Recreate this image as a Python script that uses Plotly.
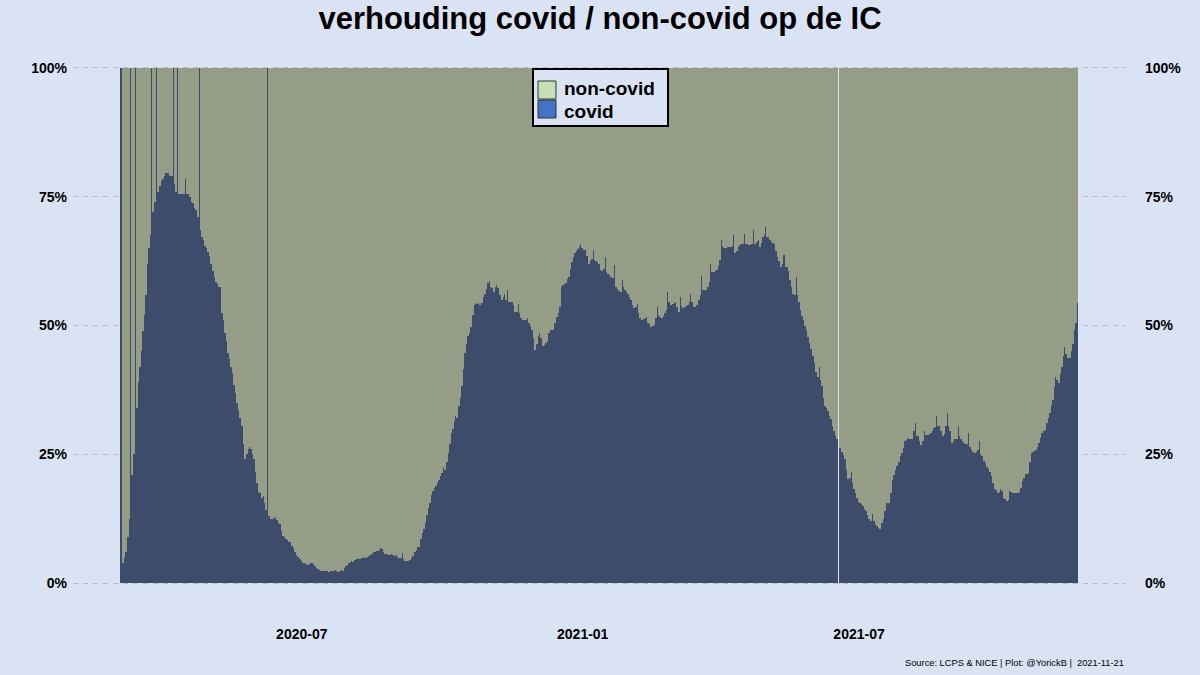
import pandas as pd
import plotly.graph_objects as go

# ---------------- data ----------------
start_date = "2020-03-05"

covid_pct = [
    100, 4.0, 5.0, 6.0, 9.0, 12.5, 100, 21.0, 25.0, 100,
    34.0, 39.0, 42.0, 45.0, 49.0, 52.0, 56.0, 62.0, 65.0, 67.5,
    100, 72.0, 74.0, 100, 76.0, 77.0, 78.0, 78.5, 79.0, 79.5,
    79.5, 79.5, 79.0, 79.0, 100, 77.5, 76.0, 100, 75.5, 75.5,
    75.5, 75.5, 78.5, 75.5, 75.5, 75.0, 74.0, 73.8, 72.8, 72.4,
    71.0, 100, 68.5, 67.2, 66.5, 65.4, 65.0, 64.2, 63.4, 62.0,
    60.5, 59.5, 58.5, 58.0, 57.5, 57.5, 52.5, 51.0, 48.5, 47.0,
    44.6, 43.5, 42.0, 40.8, 38.5, 36.9, 35.0, 33.7, 32.0, 30.5,
    27.0, 24.1, 25.0, 26.0, 26.5, 26.0, 25.0, 24.1, 21.5, 19.5,
    17.6, 17.5, 16.5, 17.0, 15.5, 14.3, 100, 13.0, 12.4, 12.5,
    12.9, 12.7, 12.2, 11.7, 11.5, 10.2, 9.2, 9.0, 8.6, 8.3,
    8.0, 7.9, 7.3, 6.8, 6.0, 5.4, 5.0, 4.7, 4.4, 4.0,
    3.9, 3.8, 3.6, 3.8, 4.0, 4.0, 3.8, 3.4, 3.0, 2.7,
    2.5, 2.4, 2.4, 2.3, 2.4, 2.3, 2.2, 2.4, 2.3, 2.4,
    2.5, 2.4, 2.2, 2.4, 2.6, 2.3, 2.9, 3.3, 3.6, 4.0,
    4.2, 4.3, 4.2, 4.5, 4.6, 4.8, 4.7, 4.9, 4.8, 5.0,
    4.8, 5.0, 5.2, 5.5, 5.7, 6.1, 6.0, 6.3, 6.2, 6.5,
    6.9, 6.6, 6.1, 5.7, 5.6, 5.5, 5.5, 5.6, 5.5, 5.3,
    5.4, 5.1, 4.9, 4.8, 5.8, 4.6, 4.4, 4.3, 4.4, 4.5,
    4.9, 5.3, 6.1, 6.5, 7.0, 7.1, 8.5, 9.7, 10.5, 11.6,
    13.2, 14.5, 15.5, 17.2, 17.8, 18.5, 18.8, 19.5, 20.1, 20.8,
    21.4, 22.5, 22.0, 23.5, 25.3, 27.0, 29.2, 30.0, 31.5, 32.4,
    32.0, 34.3, 36.0, 38.2, 41.5, 44.6, 46.5, 47.9, 48.5, 49.8,
    52.0, 54.0, 54.3, 54.2, 54.3, 54.0, 54.3, 55.5, 56.2, 57.0,
    58.2, 58.7, 57.5, 57.2, 56.5, 57.5, 57.8, 57.2, 56.0, 55.0,
    55.5, 56.2, 55.0, 56.9, 54.6, 54.6, 54.5, 54.0, 52.7, 52.7,
    54.2, 52.5, 51.5, 51.1, 51.1, 51.1, 51.4, 50.5, 50.0, 49.1,
    47.5, 45.3, 46.5, 47.9, 48.5, 47.5, 46.0, 46.3, 46.6, 47.0,
    48.5, 49.1, 49.1, 49.1, 50.5, 51.7, 52.5, 53.6, 57.5, 57.8,
    58.0, 58.2, 59.1, 59.5, 61.0, 62.3, 63.2, 64.0, 64.5, 64.9,
    65.2, 65.9, 65.0, 64.6, 64.6, 63.5, 62.0, 62.5, 63.0, 64.6,
    62.7, 62.5, 62.3, 62.0, 60.7, 60.5, 61.0, 63.3, 60.4, 60.0,
    59.8, 59.4, 59.2, 61.7, 57.5, 57.0, 56.7, 56.5, 58.8, 57.5,
    56.8, 56.5, 56.2, 55.5, 54.9, 54.0, 53.3, 53.5, 54.2, 52.5,
    51.5, 51.1, 51.3, 51.5, 51.7, 50.4, 50.2, 49.8, 50.0, 50.1,
    51.5, 53.6, 52.0, 51.6, 51.4, 51.8, 52.4, 53.0, 56.5, 54.5,
    53.9, 54.2, 54.4, 54.6, 53.5, 52.7, 55.6, 53.8, 53.3, 53.5,
    53.7, 53.9, 54.5, 56.2, 54.5, 53.6, 53.6, 54.0, 54.9, 56.0,
    59.7, 56.8, 56.8, 56.8, 57.5, 58.5, 61.9, 60.4, 60.4, 60.5,
    60.7, 61.5, 62.7, 66.5, 65.5, 65.0, 65.0, 65.3, 65.3, 65.3,
    65.5, 67.5, 64.0, 64.5, 65.3, 65.6, 65.9, 65.9, 67.8, 65.9,
    65.9, 65.6, 65.6, 65.8, 68.5, 65.9, 66.2, 66.5, 65.3, 66.0,
    67.2, 67.5, 69.1, 67.2, 67.2, 66.5, 66.2, 66.0, 65.9, 64.5,
    63.3, 62.5, 61.4, 62.0, 63.6, 61.4, 61.4, 60.5, 58.8, 57.5,
    56.2, 56.0, 59.4, 56.0, 54.6, 53.0, 51.8, 51.1, 50.0, 49.1,
    47.8, 46.6, 45.5, 44.0, 42.7, 41.0, 40.1, 42.0, 39.5, 38.2,
    36.0, 34.3, 34.0, 33.4, 32.5, 31.8, 30.5, 29.5, 28.5, 27.9,
    None, 26.3, 25.5, 24.8, 24.1, 22.0, 20.2, 20.5, 21.5, 19.5,
    18.3, 17.5, 16.5, 15.7, 15.5, 15.3, 15.0, 14.4, 14.0, 13.2,
    12.4, 12.0, 13.4, 12.0, 11.5, 11.1, 10.8, 10.5, 11.7, 12.4,
    14.0, 15.6, 15.6, 15.6, 17.5, 20.1, 21.0, 22.0, 22.7, 23.5,
    24.6, 25.2, 26.3, 27.5, 27.8, 28.2, 28.0, 27.9, 27.9, 29.5,
    31.1, 28.5, 28.5, 27.5, 26.9, 27.5, 29.5, 28.8, 28.8, 29.0,
    29.2, 29.5, 30.1, 30.3, 32.4, 30.5, 30.5, 29.5, 28.5, 29.0,
    30.5, 33.0, 30.5, 29.5, 27.2, 27.5, 27.9, 28.0, 30.5, 28.5,
    27.9, 27.5, 27.2, 27.0, 27.0, 29.2, 26.5, 25.9, 25.5, 25.3,
    25.5, 25.8, 27.5, 25.0, 24.6, 23.8, 23.3, 22.6, 22.1, 21.5,
    20.8, 19.5, 18.2, 18.0, 17.5, 17.6, 18.2, 17.8, 16.6, 16.3,
    15.9, 16.2, 17.9, 17.7, 17.5, 17.5, 17.5, 17.5, 17.6, 18.5,
    19.8, 20.5, 21.1, 21.2, 21.4, 23.5, 25.3, 25.5, 25.7, 25.9,
    26.5, 27.2, 28.2, 29.2, 29.5, 29.8, 31.0, 32.0, 33.0, 34.5,
    35.6, 38.0, 40.1, 39.5, 38.8, 40.5, 42.0, 44.0, 45.9, 44.5,
    43.6, 43.6, 45.0, 46.5, 49.1, 50.5, 54.3,
]

dates = pd.date_range(start_date, periods=len(covid_pct), freq="D")
noncovid_pct = [None if v is None else 100 - v for v in covid_pct]

series_names = ["non-covid", "covid"]

y_tick_vals = [0, 25, 50, 75, 100]
y_tick_labels = ["0%", "25%", "50%", "75%", "100%"]
x_tick_vals = ["2020-07-01", "2021-01-01", "2021-07-01"]
x_tick_labels = ["2020-07", "2021-01", "2021-07"]

title_text = "verhouding covid / non-covid op de IC"
caption_text = "Source: LCPS & NICE | Plot: @YorickB |  2021-11-21"

# ---------------- style ----------------
BG = "#dae3f3"
FONT = "Liberation Sans, Arial, sans-serif"
COVID_BAR = "#3e4c6c"
NONCOVID_BAR = "#969d87"
KEY_COLORS = {"non-covid": "#c5e0b4", "covid": "#4472c4"}

W, H = 1200, 675
ML, MR, MT, MB = 73, 74, 41, 65
PW, PH = W - ML - MR, H - MT - MB


def px(xpix):
    return (xpix - ML) / PW


def py(ypix):
    return (H - MB - ypix) / PH


fig = go.Figure()
fig.add_trace(go.Bar(x=dates, y=covid_pct, name="covid",
                     marker=dict(color=COVID_BAR, line=dict(width=0)),
                     showlegend=False, hoverinfo="skip"))
fig.add_trace(go.Bar(x=dates, y=noncovid_pct, name="non-covid",
                     marker=dict(color=NONCOVID_BAR, line=dict(width=0)),
                     showlegend=False, hoverinfo="skip"))
# invisible trace that anchors the right-hand y axis
fig.add_trace(go.Scatter(x=[None], y=[None], yaxis="y2", showlegend=False,
                         hoverinfo="skip"))

day = pd.Timedelta(days=1)
pad = 0.05 * (dates[-1] - dates[0] + day) + 0.5 * day
x_range = [dates[0] - pad, dates[-1] + pad]

tickfont = dict(family=FONT, size=14, color="black", weight="bold")

fig.update_layout(
    width=W, height=H, autosize=False,
    paper_bgcolor=BG, plot_bgcolor=BG,
    barmode="stack", bargap=0,
    margin=dict(l=ML, r=MR, t=MT, b=MB, autoexpand=False),
    font=dict(family=FONT, color="black"),
    title=dict(text=title_text, x=0.5, xref="container", xanchor="center",
               y=1 - 18 / H, yref="container", yanchor="middle",
               font=dict(family=FONT, size=31, color="black", weight="bold")),
    xaxis=dict(type="date", range=x_range, tickvals=x_tick_vals, ticktext=x_tick_labels,
               showgrid=False, zeroline=False, showline=False, ticks="",
               tickfont=tickfont, ticklabelstandoff=14, automargin=False),
    yaxis=dict(range=[-5.2, 105.2], tickvals=y_tick_vals, ticktext=y_tick_labels,
               showgrid=True, gridcolor="#b9bcc4", griddash="5px,5px", gridwidth=1,
               zeroline=False, showline=False, ticks="", tickfont=tickfont,
               ticklabelstandoff=5, automargin=False),
    yaxis2=dict(range=[-5.2, 105.2], overlaying="y", side="right",
                tickvals=y_tick_vals, ticktext=y_tick_labels,
                showgrid=False, zeroline=False, showline=False, ticks="",
                tickfont=tickfont, ticklabelstandoff=18, automargin=False),
    showlegend=False,
)

# ---- legend box (drawn as shapes + text to match the compact key) ----
box = dict(x0=533, x1=668, y0=69, y1=126)
fig.add_shape(type="rect", xref="paper", yref="paper",
              x0=px(box["x0"]), x1=px(box["x1"]), y0=py(box["y0"]), y1=py(box["y1"]),
              fillcolor=BG, line=dict(color="black", width=2), layer="above")
key_rows = [(81, 99), (100, 118)]
text_rows = [89, 111]
for name, (ky0, ky1), ty in zip(series_names, key_rows, text_rows):
    fig.add_shape(type="rect", xref="paper", yref="paper",
                  x0=px(538), x1=px(556), y0=py(ky0), y1=py(ky1),
                  fillcolor=KEY_COLORS[name], line=dict(color="#333333", width=1),
                  layer="above")
    fig.add_annotation(text=name, x=px(562), xref="paper", xanchor="left",
                       y=py(ty), yref="paper", yanchor="middle",
                       showarrow=False,
                       font=dict(family=FONT, size=19, color="black", weight="bold"))

fig.add_annotation(text=caption_text, x=1, xref="paper", xanchor="right",
                   y=py(663), yref="paper", yanchor="middle",
                   showarrow=False, font=dict(family=FONT, size=9.3, color="black"))

fig.write_html("out.html", config={"displayModeBar": False},
               post_script="document.body.style.margin='0';")
